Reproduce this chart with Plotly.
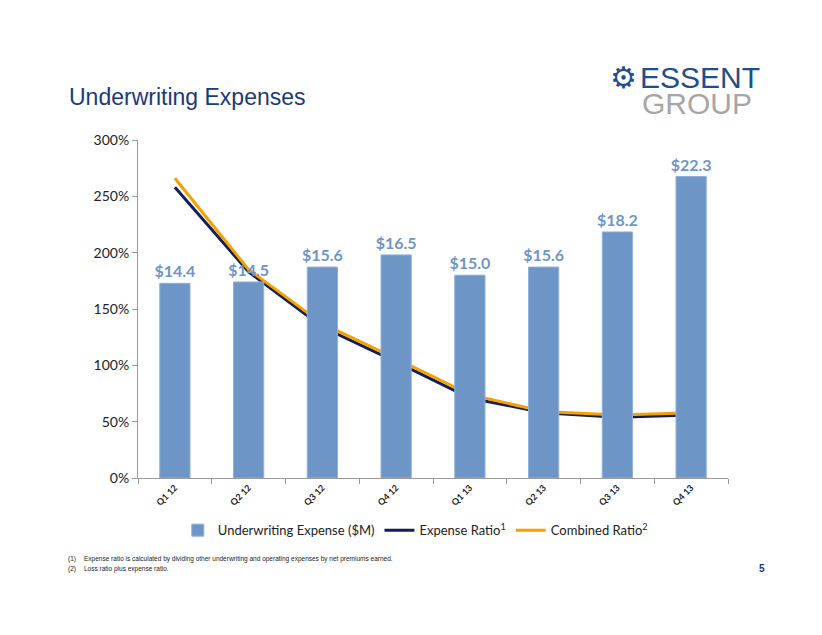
import plotly.graph_objects as go

quarters = ["Q1 12", "Q2 12", "Q3 12", "Q4 12", "Q1 13", "Q2 13", "Q3 13", "Q4 13"]
uw_expense = [14.4, 14.5, 15.6, 16.5, 15.0, 15.6, 18.2, 22.3]
expense_ratio = [258, 183, 134, 103, 71, 58, 54, 56]
combined_ratio = [266, 185, 137, 106, 74, 59, 56, 58]
y_ticks = [0, 50, 100, 150, 200, 250, 300]

bar_color = "#6D95C6"
navy = "#0F1F5C"
orange = "#F7A000"

fig = go.Figure()
fig.add_trace(go.Bar(
    x=quarters, y=uw_expense, name="Underwriting Expense ($M)",
    yaxis="y2", width=0.41,
    marker=dict(color=bar_color, line=dict(color="#8FB0D8", width=1)),
    texttemplate="$%{y:.1f}", textposition="outside", cliponaxis=False,
    constraintext="none",
    textfont=dict(family="Lato", size=16, color=bar_color, weight="bold"),
))
fig.add_trace(go.Scatter(
    x=quarters, y=expense_ratio, name="Expense Ratio<sup>1</sup>",
    mode="lines", line=dict(color=navy, width=3),
))
fig.add_trace(go.Scatter(
    x=quarters, y=combined_ratio, name="Combined Ratio<sup>2</sup>",
    mode="lines", line=dict(color=orange, width=3),
))

# plot area in screenshot: x 138..728, y 140..478 (page has 8px body offset)
fig.update_layout(
    width=822, height=635,
    margin=dict(l=130, r=102, t=132, b=165),
    paper_bgcolor="white", plot_bgcolor="white",
    showlegend=True,
    legend=dict(orientation="h", x=0.47, xanchor="center", y=-0.11, yanchor="top",
                font=dict(family="Lato", size=13, color="#222"), traceorder="normal",
                itemwidth=30),
    xaxis=dict(
        type="category", tickangle=-45, showgrid=False,
        showline=True, linecolor="#999", linewidth=1,
        ticks="outside", tickson="boundaries", ticklen=5, tickcolor="#999",
        tickfont=dict(family="Lato", size=9, color="#222", weight="bold"),
    ),
    yaxis=dict(
        range=[0, 300], tickvals=y_ticks, ticktext=[f"{v}%" for v in y_ticks],
        showgrid=False, showline=True, linecolor="#999", linewidth=1,
        ticks="outside", ticklen=5, tickcolor="#999",
        tickfont=dict(family="Lato", size=14, color="#222"), zeroline=False,
    ),
    yaxis2=dict(range=[0, 25], overlaying="y", side="right", visible=False),
    bargap=0.59,
)

fig.add_annotation(text="Underwriting Expenses", xref="paper", yref="paper",
                   x=(67 - 138) / 590, y=(478 - 97) / 338, xanchor="left", yanchor="middle",
                   showarrow=False, font=dict(family="Liberation Sans", size=23, color="#1B3A7A"))

# logo
fig.add_annotation(text="⚙", xref="paper", yref="paper",
                   x=(623 - 138) / 590, y=(478 - 77) / 338, xanchor="center", yanchor="middle",
                   showarrow=False, font=dict(family="DejaVu Sans", size=30, color="#1F4E8C"))
fig.add_annotation(text="ESSENT", xref="paper", yref="paper",
                   x=(638 - 138) / 590, y=(478 - 77) / 338, xanchor="left", yanchor="middle",
                   showarrow=False, font=dict(family="Liberation Sans", size=30, color="#1F4E8C"))
fig.add_annotation(text="GROUP", xref="paper", yref="paper",
                   x=(640 - 138) / 590, y=(478 - 103) / 338, xanchor="left", yanchor="middle",
                   showarrow=False, font=dict(family="Liberation Sans", size=30, color="#A6A6A6"))

notes = [("(1)", "Expense ratio is calculated by dividing other underwriting and operating expenses by net premiums earned.", 559),
         ("(2)", "Loss ratio plus expense ratio.", 569)]
for num, txt, yy in notes:
    fig.add_annotation(text=num, xref="paper", yref="paper",
                       x=(66 - 138) / 590, y=(478 - yy) / 338, xanchor="left", yanchor="middle",
                       showarrow=False, font=dict(family="Liberation Sans", size=6.5, color="#222"))
    fig.add_annotation(text=txt, xref="paper", yref="paper",
                       x=(82 - 138) / 590, y=(478 - yy) / 338, xanchor="left", yanchor="middle",
                       showarrow=False, font=dict(family="Liberation Sans", size=6.5, color="#222"))

fig.add_annotation(text="<b>5</b>", xref="paper", yref="paper",
                   x=(762 - 138) / 590, y=(478 - 568) / 338, xanchor="center", yanchor="middle",
                   showarrow=False, font=dict(family="Liberation Sans", size=10, color="#1B3A7A"))

fig.write_html("out.html")
